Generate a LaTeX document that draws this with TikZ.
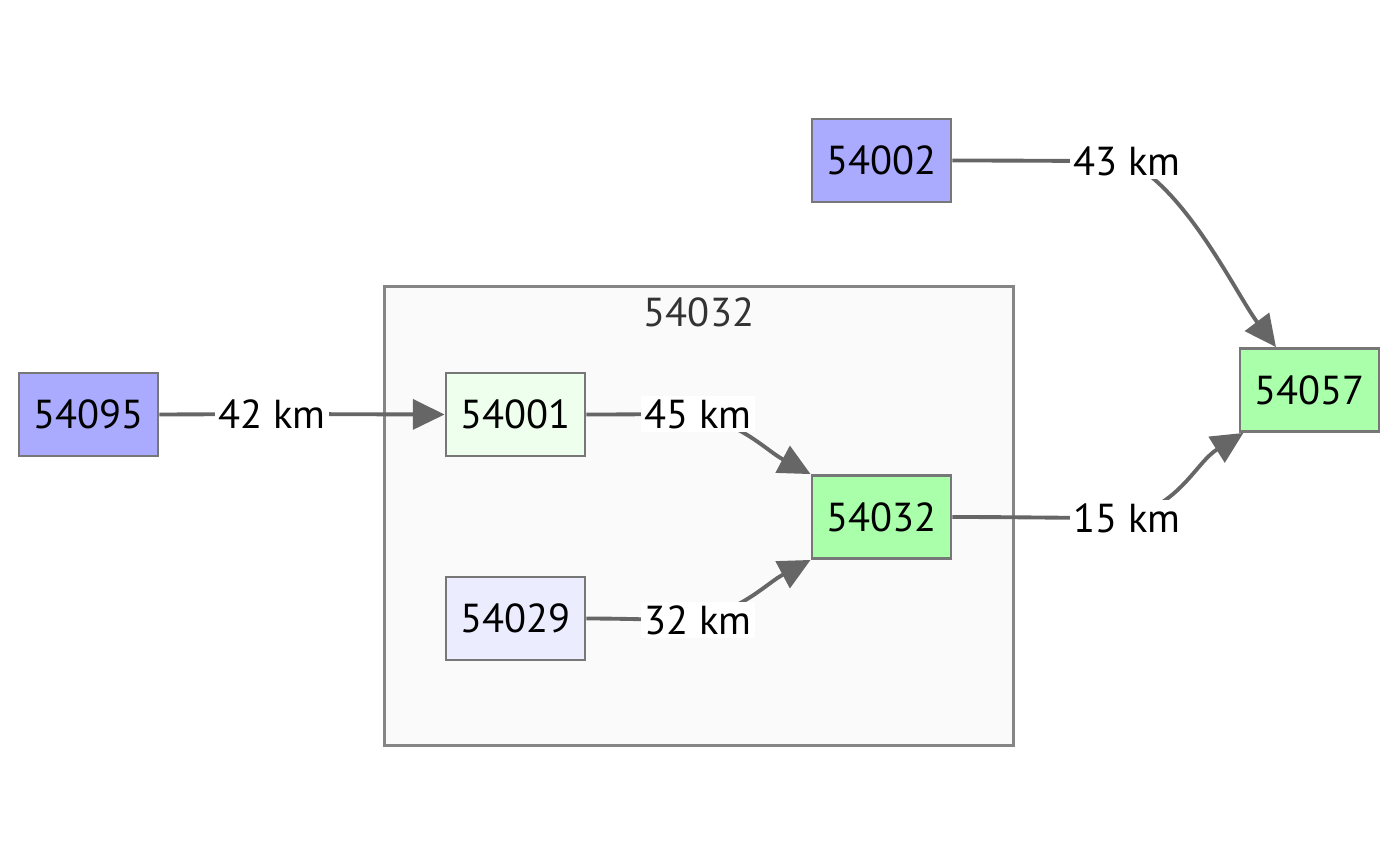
\documentclass[tikz,border=0pt]{standalone}
\usepackage{fontspec}
\setmainfont{PT Sans}
\usetikzlibrary{arrows.meta,backgrounds}
\definecolor{srcblue}{HTML}{AAAAFF}
\definecolor{lightblue}{HTML}{ECECFF}
\definecolor{lightgreen}{HTML}{EEFFEE}
\definecolor{dstgreen}{HTML}{AAFFAA}
\definecolor{edgegray}{HTML}{666666}
\definecolor{boxgray}{HTML}{777777}
\definecolor{clustergray}{HTML}{FAFAFA}
\begin{document}
\begin{tikzpicture}[x=0.01cm,y=-0.01cm,
  station/.style={draw=boxgray,line width=0.8pt,minimum width=1.39cm,minimum height=0.83cm,inner sep=0pt,font=\fontsize{11.5}{14}\selectfont},
  dist/.style={fill=white,inner sep=1pt,font=\fontsize{11.5}{14}\selectfont},
  edge/.style={edgegray,line width=1.1pt,-{Triangle[length=9pt,width=8.5pt]}}]
\useasboundingbox (0,0) rectangle (1400,866);
\node[station,fill=srcblue] (s54095) at (88.5,414.5) {54095};
\node[station,fill=lightgreen] (s54001) at (515.5,414.5) {54001};
\node[station,fill=lightblue] (s54029) at (515.5,618.5) {54029};
\node[station,fill=dstgreen] (s54032) at (881.5,517) {54032};
\node[station,fill=srcblue] (s54002) at (881.5,160.5) {54002};
\node[station,fill=dstgreen] (s54057) at (1309.5,390) {54057};
\node[text=black!80,font=\fontsize{11.5}{14}\selectfont] (t54032) at (699,312) {54032};
\node[dist] (d42) at (272,414) {42 km};
\node[dist] (d45) at (698,414) {45 km};
\node[dist] (d32) at (698,620) {32 km};
\node[dist] (d15) at (1127,518) {15 km};
\node[dist] (d43) at (1127,161) {43 km};
\begin{scope}[on background layer]
\node[draw=boxgray!90,fill=clustergray,line width=0.8pt,minimum width=6.28cm,minimum height=4.58cm] (c54032) at (699,516) {};
\draw[edge] (s54095.east) -- (d42.center) -- (s54001.west);
\draw[edge] (s54001.east) to[out=0,in=180] (d45.center) to[out=-15,in=152] (s54032.north west);
\draw[edge] (s54029.east) to[out=0,in=180] (d32.center) to[out=15,in=208] (s54032.south west);
\draw[edge] (s54032.east) to[out=0,in=180] (d15.center) to[out=15,in=212] (s54057.213);
\draw[edge] (s54002.east) to[out=0,in=180] (d43.center) to[out=-25,in=127,looseness=0.7] (s54057.128);
\end{scope}
\end{tikzpicture}
\end{document}
